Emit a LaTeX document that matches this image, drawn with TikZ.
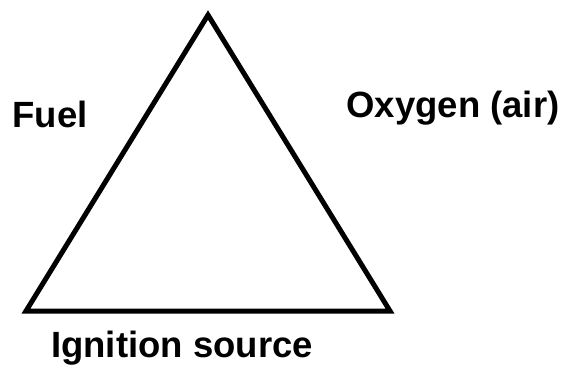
\documentclass[tikz,border=0pt]{standalone}
\usepackage{fontspec}
\setmainfont{Liberation Sans}
\usetikzlibrary{positioning}

\begin{document}
\begin{tikzpicture}[
    x=1pt, y=1pt,
    label/.style={font=\fontsize{36.5}{42}\selectfont\bfseries, inner sep=0pt, anchor=base},
    side/.style={line width=5pt, line join=miter, draw=black}
  ]
    \useasboundingbox (0,0) rectangle (562,365);

    \coordinate (apex) at (208,350);
    \coordinate (left) at (26,54);
    \coordinate (right) at (390,54);

    \draw[side] (apex) -- (right) -- (left) -- cycle;

    \node[label] (fuel) at (50,238) {Fuel};
    \node[label] (oxygen) at (453,248) {Oxygen (air)};
    \node[label] (ignition) at (182,8) {Ignition source};
  \end{tikzpicture}
\end{document}
